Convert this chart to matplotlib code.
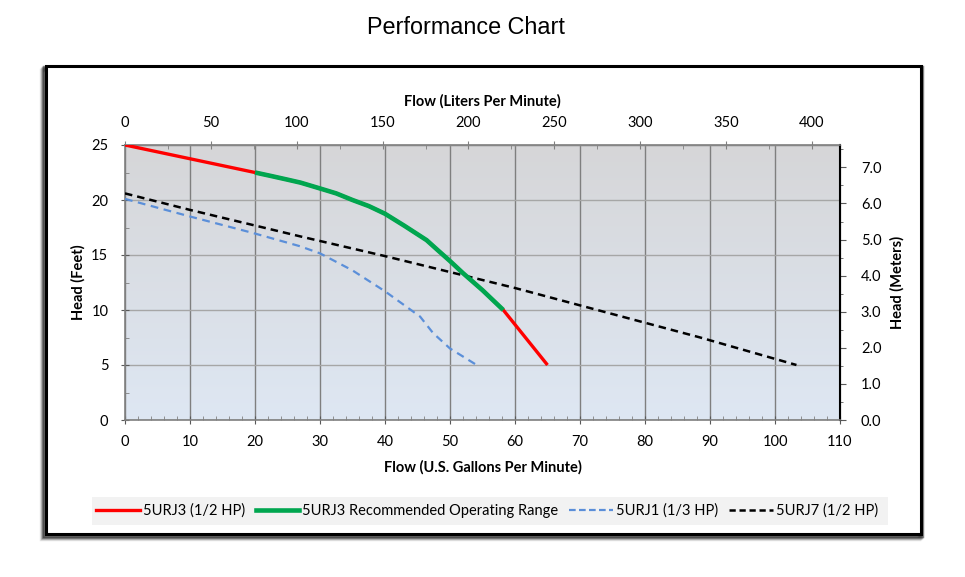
import numpy as np
import matplotlib.pyplot as plt
import matplotlib.patches as mpatches
import matplotlib.lines as mlines
from matplotlib.ticker import MultipleLocator, FormatStrFormatter

# Pump curves (flow in US GPM, head in feet)
gpm_5urj3 = [0, 10, 20, 22.5, 25, 27, 30, 32.5, 35, 37.5, 40, 43, 46.4, 48, 50, 52, 55, 58.2, 65]
head_5urj3 = [25, 23.75, 22.5, 22.18, 21.85, 21.58, 21.05, 20.6, 20.0, 19.45, 18.75, 17.65,
              16.35, 15.5, 14.45, 13.35, 11.8, 10.0, 5.0]
rec_range = (20, 58.2)  # recommended operating range of 5URJ3 (GPM)

gpm_5urj1 = [0, 10, 19.7, 26.9, 30, 35, 40, 45.4, 47.4, 50, 54.1]
head_5urj1 = [20.1, 18.5, 17.0, 15.8, 15.15, 13.6, 11.7, 9.4, 7.9, 6.5, 5.0]

gpm_5urj7 = [0, 10, 26.9, 40, 60, 88.5, 103.3]
head_5urj7 = [20.6, 19.1, 16.7, 14.9, 12.0, 7.5, 5.0]

GPM_TO_LPM = 3.785
FT_TO_M = 0.3048

fig = plt.figure(figsize=(9.65, 5.77), dpi=100)
W, H = 965, 577

def px(x0, y0, x1, y1):
    return [x0 / W, 1 - y1 / H, (x1 - x0) / W, (y1 - y0) / H]

# outer frame with soft shadow
for k, a in enumerate([0.10, 0.18, 0.30, 0.45]):
    off = 4 - k
    r = px(45 - off, 66 + off, 922 - off + 1, 535 + off)
    fig.patches.append(mpatches.Rectangle((r[0], r[1]), r[2], r[3], transform=fig.transFigure,
                                          facecolor='none', edgecolor='black', alpha=a,
                                          linewidth=2.5, zorder=0))
r = px(46, 66, 921, 534)
fig.patches.append(mpatches.Rectangle((r[0], r[1]), r[2], r[3], transform=fig.transFigure,
                                      facecolor='white', edgecolor='black', linewidth=2.2, zorder=0.5))
# legend band
r = px(92, 497, 888, 525)
fig.patches.append(mpatches.Rectangle((r[0], r[1]), r[2], r[3], transform=fig.transFigure,
                                      facecolor='#f2f2f2', edgecolor='none', zorder=0.6))

fig.text(466 / W, 1 - 28 / H, 'Performance Chart', ha='center', va='center',
         fontsize=16.8, family='Liberation Sans')

ax = fig.add_axes(px(125, 145, 840, 420))
ax.set_zorder(2)

# gradient background: gray at top, pale blue at bottom
top_c = np.array([214, 214, 216]) / 255
bot_c = np.array([222, 231, 243]) / 255
t = np.linspace(0, 1, 256)[:, None]
grad = (top_c * (1 - t) + bot_c * t)[:, None, :]
ax.imshow(grad, extent=[0, 110, 0, 25], aspect='auto', zorder=0, interpolation='bicubic')

ax.set_xlim(0, 110)
ax.set_ylim(0, 25)

ax.xaxis.set_major_locator(MultipleLocator(10))
ax.xaxis.set_minor_locator(MultipleLocator(2))
ax.yaxis.set_major_locator(MultipleLocator(5))
ax.yaxis.set_minor_locator(MultipleLocator(2.5))
ax.xaxis.grid(True, color='#7f7f7f', linewidth=1.0)
ax.yaxis.grid(True, color='#a6a6a6', linewidth=1.0)
ax.set_axisbelow(True)

ax.tick_params(which='major', direction='inout', length=6, color='#595959', labelsize=10.5)
ax.tick_params(axis='x', which='major', pad=8)
ax.tick_params(axis='y', which='major', pad=9)
ax.tick_params(which='minor', direction='in', length=3, color='#808080')
for lab in ax.get_xticklabels() + ax.get_yticklabels():
    lab.set_family('Lato')
for s in ['left', 'bottom', 'top']:
    ax.spines[s].set_color('#7f7f7f')
    ax.spines[s].set_linewidth(1.2)
ax.spines['right'].set_color('black')
ax.spines['right'].set_linewidth(1.5)

ax.set_xlabel('Flow (U.S. Gallons Per Minute)', fontsize=10.5, fontweight='bold',
              family='Lato', labelpad=8)
ax.set_ylabel('Head (Feet)', fontsize=10.5, fontweight='bold', family='Lato', labelpad=4)

# curves
g3 = np.array(gpm_5urj3)
h3 = np.array(head_5urj3)
ax.plot(g3, h3, color='#ff0000', linewidth=2.4, solid_capstyle='butt', zorder=3)
m = (g3 >= rec_range[0]) & (g3 <= rec_range[1])
ax.plot(g3[m], h3[m], color='#00a64f', linewidth=3.3, solid_capstyle='butt',
        solid_joinstyle='round', zorder=4)
ax.plot(gpm_5urj1, head_5urj1, color='#5b8fd9', linewidth=1.6, dashes=(3.5, 2.5), zorder=3)
ax.plot(gpm_5urj7, head_5urj7, color='black', linewidth=1.8, dashes=(3, 2), zorder=3)

# secondary axes
top = ax.secondary_xaxis('top', functions=(lambda x: x * GPM_TO_LPM, lambda x: x / GPM_TO_LPM))
top.xaxis.set_major_locator(MultipleLocator(50))
top.xaxis.set_minor_locator(MultipleLocator(25))
top.tick_params(which='major', direction='inout', length=6, color='#808080', labelsize=10.5, pad=8)
top.tick_params(which='minor', direction='in', length=3, color='#808080')
top.set_xlabel('Flow (Liters Per Minute)', fontsize=10.5, fontweight='bold', family='Lato', labelpad=7)
for lab in top.get_xticklabels():
    lab.set_family('Lato')

right = ax.secondary_yaxis('right', functions=(lambda y: y * FT_TO_M, lambda y: y / FT_TO_M))
right.yaxis.set_major_locator(MultipleLocator(1))
right.yaxis.set_minor_locator(MultipleLocator(0.5))
right.yaxis.set_major_formatter(FormatStrFormatter('%.1f'))
right.tick_params(which='major', direction='out', length=4, color='#595959', labelsize=10.5, pad=11)
right.tick_params(which='minor', direction='out', length=2, color='#595959')
right.set_ylabel('Head (Meters)', fontsize=10.5, fontweight='bold', family='Lato', labelpad=6)
for lab in right.get_yticklabels():
    lab.set_family('Lato')

# legend
handles = [
    mlines.Line2D([], [], color='#ff0000', linewidth=2.4, label='5URJ3 (1/2 HP)'),
    mlines.Line2D([], [], color='#00a64f', linewidth=3.3, label='5URJ3 Recommended Operating Range'),
    mlines.Line2D([], [], color='#5b8fd9', linewidth=1.6, dashes=(3, 1.5), label='5URJ1 (1/3 HP)'),
    mlines.Line2D([], [], color='black', linewidth=1.8, dashes=(2.5, 1.5), label='5URJ7 (1/2 HP)'),
]
fig.legend(handles=handles, loc='center', bbox_to_anchor=(487 / W, 1 - 511 / H), ncol=4,
           frameon=False, handlelength=3.0, handletextpad=0.2,
           columnspacing=0.75, prop={'family': 'Lato', 'size': 10.5})

fig.savefig('out.png', dpi=100)
